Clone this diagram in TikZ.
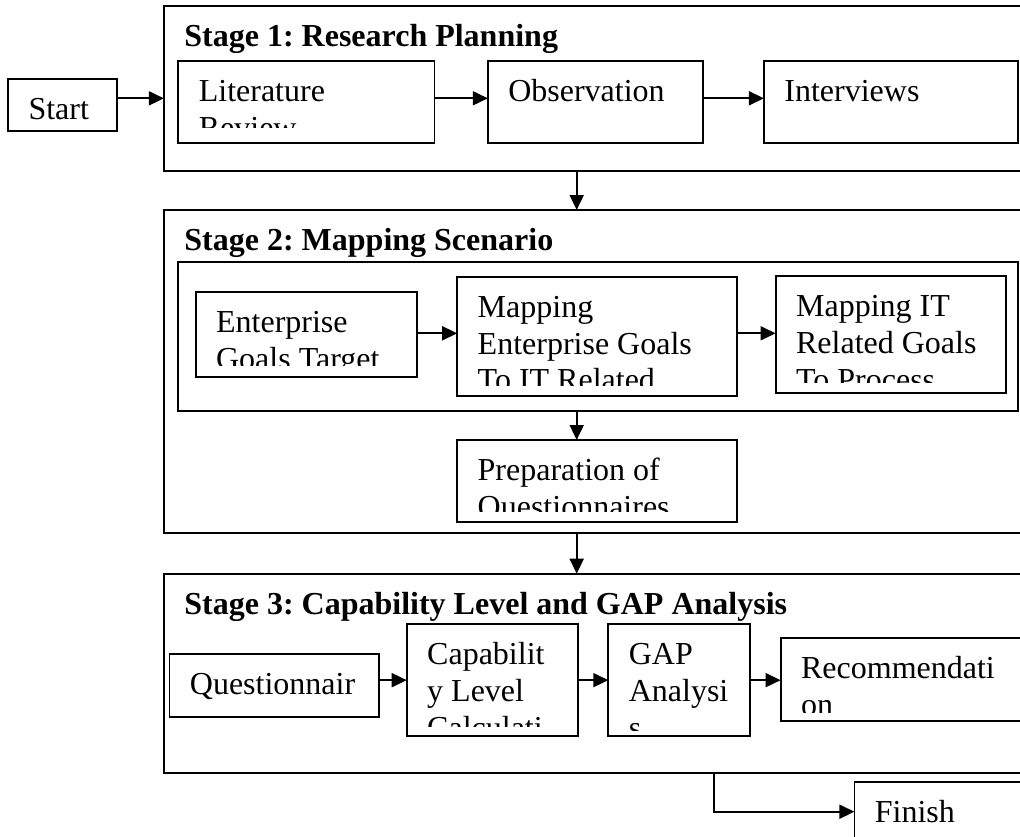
\documentclass[tikz,border=0pt]{standalone}
\usepackage{fontspec}
\setmainfont{Liberation Serif}
\usetikzlibrary{arrows.meta}
\frenchspacing

\newcommand{\boxlines}[1]{\vtop{\halign{##\hfil\cr#1\crcr}}}

\tikzset{
  textcut/.store in=\textcut, textcut=11pt,
  wh/.style 2 args={minimum width=#1pt, minimum height=#2pt},
  tbox/.style={draw, line width=1.8pt, anchor=north west, inner sep=0pt, outer sep=0pt},
  txt/.style={path picture={
    \clip ([yshift=\textcut]path picture bounding box.south west) rectangle (path picture bounding box.north east);
    \node[draw=none, fill=none, minimum width=0pt, minimum height=0pt, inner sep=0pt, anchor=base west]
      at ([shift={(20.5pt,-40.5pt)}]path picture bounding box.north west) {\boxlines{#1}};}},
  arr/.style={-{Triangle[length=15pt,width=14pt]}, line width=1.8pt}
}

\begin{document}
\begin{tikzpicture}[x=1pt, y=-1pt, font=\fontsize{32}{36.8}\selectfont]
\useasboundingbox (0,0) rectangle (1020,836);
\clip (0,0) rectangle (1020,836);
\coordinate (spine) at (576.7,0);
\coordinate (drop) at (713.9,0);

\node (start) [tbox, wh={109.3}{51.7}, txt={Start}] at (8,79) {};

\node (s1) [tbox, wh={876}{164.7}, txt={\bfseries Stage 1: Research Planning}] at (163.9,6) {};
\node (lit) [tbox, wh={256.1}{82}, textcut=15pt, txt={Literature\cr Review}] at (178.3,60.7) {};
\node (obs) [tbox, wh={215}{82}, txt={Observation}] at (487.8,60.7) {};
\node (intv) [tbox, wh={253.8}{82}, txt={Interviews}] at (763.9,60.7) {};

\node (s2) [tbox, wh={876}{323.3}, txt={\bfseries Stage 2: Mapping Scenario}] at (163.9,210) {};
\node (map) [tbox, wh={840.2}{148.8}] at (177.8,262.2) {};
\node (egt) [tbox, wh={221.1}{85}, textcut=12pt, txt={Enterprise\cr Goals Target}] at (195.6,292.3) {};
\node (megi) [tbox, wh={279.5}{119.3}, txt={Mapping\cr Enterprise Goals\cr To IT Related}] at (457.2,276.7) {};
\node (mitr) [tbox, wh={230.1}{117.3}, txt={Mapping IT\cr Related Goals\cr To Process}] at (775.6,276) {};
\node (prep) [tbox, wh={279.5}{82.3}, txt={Preparation of\cr Questionnaires}] at (457.2,440) {};

\node (s3) [tbox, wh={876}{199.6}, txt={\bfseries Stage 3: Capability Level and GAP Analysis}] at (163.9,573.7) {};
\node (quest) [tbox, wh={209.5}{62.7}, txt={Questionnair}] at (169.4,654) {};
\node (cap) [tbox, wh={171.1}{111.7}, textcut=10pt, txt={Capabilit\cr y Level\cr Calculati}] at (406.7,624.3) {};
\node (gap) [tbox, wh={141.7}{111.7}, textcut=6pt, txt={GAP\cr Analysi\cr s}] at (608.3,624.3) {};
\node (rec) [tbox, wh={260}{82.7}, textcut=9pt, txt={Recommendati\cr on}] at (780.6,638.3) {};
\node (fin) [tbox, wh={200}{60}, txt={Finish}] at (854.4,781.7) {};

\draw[arr] ([yshift=6.5pt]start.east) coordinate (st) -- (st -| s1.west);
\draw[arr] ([yshift=3.4pt]lit.east) -- ([yshift=3.4pt]obs.west);
\draw[arr] ([yshift=3.4pt]obs.east) -- ([yshift=3.4pt]intv.west);
\draw[arr] (spine |- s1.south) -- (spine |- s2.north);
\draw[arr] ([yshift=1.5pt]egt.east) coordinate (e1) -- (e1 -| megi.west);
\draw[arr] (megi.east |- e1) -- (e1 -| mitr.west);
\draw[arr] (spine |- map.south) -- (spine |- prep.north);
\draw[arr] (spine |- s2.south) -- (spine |- s3.north);
\draw[arr] (quest.east |- cap.west) -- (cap.west);
\draw[arr] (cap.east) -- (gap.west);
\draw[arr] (gap.east) -- (gap.east -| rec.west);
\draw[arr] (drop |- s3.south) |- (fin.west);
\end{tikzpicture}
\end{document}
